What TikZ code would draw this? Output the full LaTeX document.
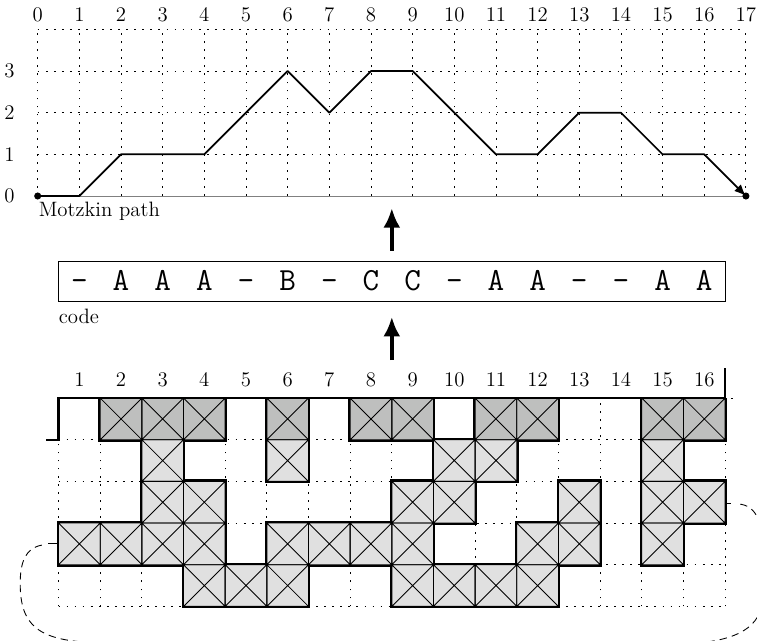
\documentclass[tikz,border=0pt]{standalone}
\usetikzlibrary{arrows.meta}
\definecolor{darkcell}{RGB}{190,191,190}
\definecolor{lightcell}{RGB}{224,224,224}
\tikzset{
  lab/.style={font=\fontsize{14.2}{16}\selectfont, inner sep=0pt},
  codech/.style={font=\fontsize{22}{26}\selectfont\ttfamily, inner sep=0pt, anchor=base},
  dotgrid/.style={line width=0.6pt, dash pattern=on 1.2pt off 4.3pt},
  mpath/.style={line width=1.2pt, line join=round},
  pdot/.style={circle, fill, inner sep=0pt, minimum size=0.17cm},
  bigarrow/.style={line width=2.7pt, -{Latex[length=0.47cm,width=0.41cm]}},
  cellthin/.style={line width=0.6pt},
  cellthick/.style={line width=2.6pt},
  topline/.style={line width=1.5pt, line join=miter},
  loopline/.style={line width=0.6pt, dash pattern=on 5pt off 3.5pt},
  tick/.style={line width=0.6pt},
}
\newcommand\passA[2]{\foreach \c in {#2}{\draw[cellthick] (\c-0.5,#1) rectangle (\c+0.5,#1-1);}}
\newcommand\passB[3]{\foreach \c in {#3}{\fill[#2] (\c-0.5,#1) rectangle (\c+0.5,#1-1);}}
\newcommand\passC[2]{\foreach \c in {#2}{\draw[cellthin] (\c-0.5,#1) rectangle (\c+0.5,#1-1) (\c-0.5,#1) -- (\c+0.5,#1-1) (\c-0.5,#1-1) -- (\c+0.5,#1);}}
\begin{document}
\begin{tikzpicture}
\useasboundingbox (-0.905,-10.658) rectangle (17.266,4.705);
\clip (-0.905,-10.658) rectangle (17.266,4.705);
% ---- Motzkin path grid
\draw[dotgrid] (0,0) grid (17,4);
\draw[line width=0.5pt, gray] (0,0) -- (17,0);
\foreach \i in {0,...,17} \node[lab, anchor=base] (x\i) at (\i,4.18) {\i};
\foreach \j in {0,...,3} \node[lab, anchor=east] (y\j) at (-0.55,\j) {\j};
\node[pdot] (start) at (0,0) {};
\node[pdot] (end) at (17,0) {};
\draw[mpath, -{Latex[length=8pt,width=6.5pt]}] (start.center) -- (1,0) -- (2,1) -- (4,1) -- (6,3) -- (7,2) -- (8,3) -- (9,3) -- (11,1) -- (12,1) -- (13,2) -- (14,2) -- (15,1) -- (16,1) -- (end.center);
\node[lab, anchor=base west] (mlabel) at (0.02,-0.5) {Motzkin path};
% ---- code
\node[draw, line width=0.6pt, minimum width=16cm, minimum height=0.98cm, inner sep=0pt] (code) at (8.5,-2.05) {};
\foreach \ch [count=\k] in {-,A,A,A,-,B,-,C,C,-,A,A,-,-,A,A} \node[codech] (ch\k) at (\k,-2.27) {\ch};
\node[lab, anchor=base west] (clabel) at (0.5,-3.07) {code};
% ---- arrows
\coordinate (pathbase) at (8.5,0);
\coordinate (gridtop) at (8.5,-4.85);
\draw[bigarrow] ([yshift=0.23cm]code.north) -- ([yshift=-0.29cm]pathbase);
\draw[bigarrow] ([yshift=0.91cm]gridtop) -- ([yshift=-0.35cm]code.south);
% ---- cell grid
\draw[dotgrid, shift={(0.5,-9.85)}] (0,0) grid (16,5);
\begin{scope}
\clip (0,-4.85) rectangle (17.2,-10.3);
\passA{-4.85}{2,3,4,6,8,9,11,12,15,16}
\passA{-5.85}{3,6,10,11,15}
\passA{-6.85}{3,4,9,10,13,15,16}
\passA{-7.85}{1,2,3,4,6,7,8,9,12,13,15}
\passA{-8.85}{4,5,6,9,10,11,12}
\end{scope}
\passB{-4.85}{darkcell}{2,3,4,6,8,9,11,12,15,16}
\passB{-5.85}{lightcell}{3,6,10,11,15}
\passB{-6.85}{lightcell}{3,4,9,10,13,15,16}
\passB{-7.85}{lightcell}{1,2,3,4,6,7,8,9,12,13,15}
\passB{-8.85}{lightcell}{4,5,6,9,10,11,12}
\passC{-4.85}{2,3,4,6,8,9,11,12,15,16}
\passC{-5.85}{3,6,10,11,15}
\passC{-6.85}{3,4,9,10,13,15,16}
\passC{-7.85}{1,2,3,4,6,7,8,9,12,13,15}
\passC{-8.85}{4,5,6,9,10,11,12}
\draw[topline] (0.2,-5.85) -- (0.5,-5.85) -- (0.5,-4.85) -- (16.5,-4.85) -- (16.5,-4.12);
\foreach \c in {1,...,16} \node[lab, anchor=base] (col\c) at (\c,-4.58) {\c};
\draw[tick] (16.64,-4.85) -- (16.7,-4.85);
% ---- loop
\draw[tick] (0.5,-8.35) -- (0.25,-8.35);
\draw[tick] (16.5,-7.37) -- (16.63,-7.37);
\draw[loopline] (0.1,-8.38) .. controls (-0.3,-8.45) and (-0.42,-8.8) .. (-0.42,-9.3)
  .. controls (-0.42,-10.3) and (0.0,-10.68) .. (1.4,-10.72) -- (15.6,-10.75)
  .. controls (16.8,-10.68) and (17.4,-10.35) .. (17.4,-9.6) -- (17.4,-8.6)
  .. controls (17.4,-7.9) and (17.3,-7.42) .. (16.8,-7.39);
\end{tikzpicture}
\end{document}
